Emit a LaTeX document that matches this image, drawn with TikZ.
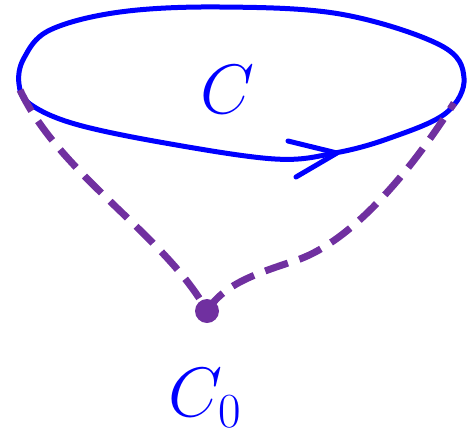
\RequirePackage{fix-cm}
\documentclass[tikz,border=0pt]{standalone}
\usepackage{amsmath}
\usetikzlibrary{positioning}
\definecolor{cblue}{RGB}{0,0,255}
\definecolor{cpurple}{RGB}{112,48,160}

\begin{document}
\begin{tikzpicture}[
  x=1pt, y=-1pt,
  loopline/.style={draw=cblue, line width=5pt, line cap=round, line join=round},
  pathdash/.style={draw=cpurple, line width=7pt, dash pattern=on 24pt off 12pt},
  dotnode/.style={circle, fill=cpurple, minimum size=24pt, inner sep=0pt},
  lbl/.style={text=cblue, font=\fontsize{70}{80}\selectfont}
]
  \useasboundingbox (0,0) rectangle (469,437);

  % the closed loop C
  \draw[loopline] plot[smooth cycle, tension=0.6] coordinates {
    (19,84) (24,58) (50,30) (120,12) (220,7) (340,14) (440,45) (464,78)
    (446,113) (390,138) (335,153) (275,159) (165,143) (75,124) (30,104)};

  % arrowhead on the loop
  \coordinate (tip) at (337,153);
  \draw[loopline] (288,141) -- (tip) -- (296,177);

  \node[lbl] (lc)  at (228,90)  {$C$};
  \node[dotnode] (c0) at (207,311) {};
  \node[lbl] (lc0) at (205,398) {$C_0$};

  % ends of the dashed paths on the loop
  \coordinate (al) at (20,90);
  \coordinate (ar) at (454,103);

  \draw[pathdash] (al) .. controls (60,175) and (165,235) .. (c0.center);
  \draw[pathdash] (c0.center) .. controls (225,282) and (262,272) .. (300,259)
                  .. controls (350,240) and (405,180) .. (ar);
\end{tikzpicture}
\end{document}
